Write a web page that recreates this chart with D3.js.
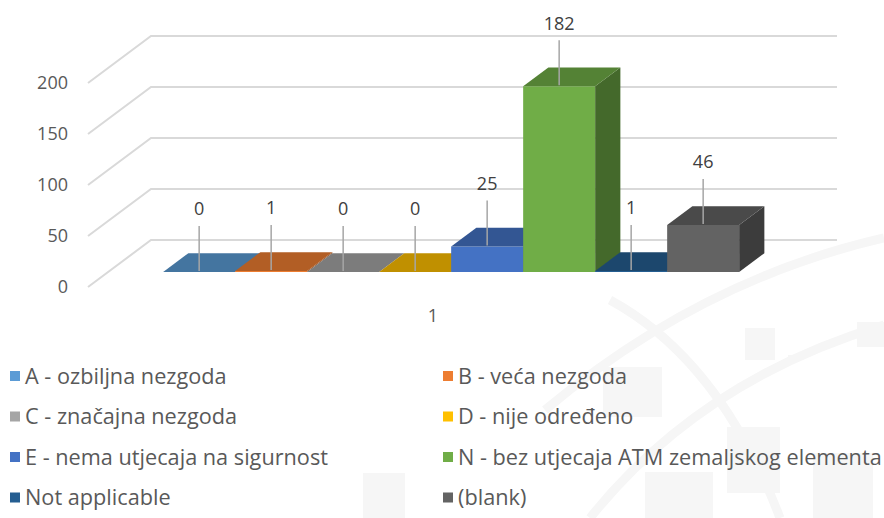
<!DOCTYPE html>
<html>
<head>
<meta charset="utf-8">
<script src="https://cdn.jsdelivr.net/npm/d3@7"></script>
<style>
  body { margin: 0; background: #fff; }
  svg { display: block; font-family: "Open Sans", sans-serif; }
</style>
</head>
<body>
<svg id="chart" width="884" height="518"></svg>
<script>
    // Data
    const categories = [
        'A - ozbiljna nezgoda',
        'B - veća nezgoda',
        'C - značajna nezgoda',
        'D - nije određeno',
        'E - nema utjecaja na sigurnost',
        'N - bez utjecaja ATM zemaljskog elementa',
        'Not applicable',
        '(blank)'
    ];
    const values = [0, 1, 0, 0, 25, 182, 1, 46];
    const colors = ['#5B9BD5', '#ED7D31', '#A5A5A5', '#FFC000', '#4472C4', '#70AD47', '#255E91', '#636363'];
    const yTicks = [0, 50, 100, 150, 200];
    const groupLabel = '1';

    const w = 884;
    const h = 518;

    // 3d projection: depth 0 = front of floor, 1 = back wall
    const depthX = 63;
    const depthY = 47;
    const barFront = 0.32;
    const barBack = 0.72;

    const project = (x, y, d) => [x + d * depthX, y - d * depthY];

    // Scales (front plane)
    const scaleX = d3.scaleBand().domain(categories).range([143, 719]);
    const scaleY = d3.scaleLinear().domain([0, 200]).range([287, 83]);

    const svg = d3.select('#chart');

    // Faint watermark in the background
    const mark = svg.append('g').attr('id', 'watermark');
    const arcs = ['M590,518 Q700,380 884,325', 'M610,300 Q720,360 780,518', 'M884,238 Q700,280 545,410'];
    mark.selectAll('path')
        .data(arcs)
        .enter()
        .append('path')
        .attr('d', d => d)
        .attr('fill', 'none')
        .attr('stroke', '#f6f6f6')
        .attr('stroke-width', 9);
    const squares = [[745, 328, 30, 32], [788, 355, 7, 5], [857, 322, 27, 25], [603, 367, 59, 50],
        [727, 427, 53, 66], [813, 453, 60, 65], [363, 473, 42, 45], [645, 472, 68, 46]];
    mark.selectAll('rect')
        .data(squares)
        .enter()
        .append('rect')
        .attr('x', d => d[0]).attr('y', d => d[1])
        .attr('width', d => d[2]).attr('height', d => d[3])
        .attr('fill', '#f6f6f6');

    // Gridlines (floor diagonal + back wall)
    const grid = svg.append('g').attr('id', 'grid');
    yTicks.forEach(t => {
        const a = project(88, scaleY(t), 0);
        const b = project(88, scaleY(t), 1);
        grid.append('polyline')
            .attr('points', [a, b, [837, b[1]]].map(p => p.join(',')).join(' '))
            .attr('fill', 'none')
            .attr('stroke', '#d9d9d9')
            .attr('stroke-width', 2);
    });

    // Y axis labels
    svg.append('g').attr('id', 'y-axis')
        .selectAll('text')
        .data(yTicks)
        .enter()
        .append('text')
        .attr('x', 68)
        .attr('y', d => scaleY(d))
        .attr('dy', '0.35em')
        .attr('text-anchor', 'end')
        .attr('font-size', 18)
        .attr('fill', '#595959')
        .text(d => d);

    // Bars
    const bars = svg.append('g').attr('id', 'bars');
    const poly = pts => pts.map(p => p.join(',')).join(' ');

    categories.forEach((c, i) => {
        const v = values[i];
        const x0 = scaleX(c);
        const x1 = x0 + scaleX.bandwidth();
        const yTop = scaleY(v);
        const yBase = scaleY(0);
        const base = d3.color(colors[i]);
        const g = bars.append('g');

        // front
        g.append('polygon')
            .attr('points', poly([project(x0, yTop, barFront), project(x1, yTop, barFront),
                project(x1, yBase, barFront), project(x0, yBase, barFront)]))
            .attr('fill', base.formatHex());
        // side
        g.append('polygon')
            .attr('points', poly([project(x1, yBase, barFront), project(x1, yTop, barFront),
                project(x1, yTop, barBack), project(x1, yBase, barBack)]))
            .attr('fill', base.darker(1.4).formatHex());
        // top
        g.append('polygon')
            .attr('points', poly([project(x0, yTop, barFront), project(x1, yTop, barFront),
                project(x1, yTop, barBack), project(x0, yTop, barBack)]))
            .attr('fill', base.darker(0.8).formatHex());
    });

    // Data labels with leader lines
    const labels = svg.append('g').attr('id', 'labels');
    categories.forEach((c, i) => {
        const p = project(scaleX(c) + scaleX.bandwidth() / 2, scaleY(values[i]), barFront);
        labels.append('line')
            .attr('x1', p[0]).attr('x2', p[0])
            .attr('y1', p[1] - 1).attr('y2', p[1] - 46)
            .attr('stroke', '#a6a6a6')
            .attr('stroke-width', 1.5);
        labels.append('text')
            .attr('x', p[0])
            .attr('y', p[1] - 63)
            .attr('dy', '0.35em')
            .attr('text-anchor', 'middle')
            .attr('font-size', 18)
            .attr('fill', '#404040')
            .text(values[i]);
    });

    // Category label
    svg.append('text')
        .attr('x', (scaleX.range()[0] + scaleX.range()[1]) / 2 + 2)
        .attr('y', scaleY(0) + 29)
        .attr('dy', '0.35em')
        .attr('text-anchor', 'middle')
        .attr('font-size', 18)
        .attr('fill', '#595959')
        .text(groupLabel);

    // Legend
    const legend = svg.append('g').attr('id', 'legend')
        .selectAll('g')
        .data(categories)
        .enter()
        .append('g')
        .attr('transform', (d, i) => `translate(${i % 2 === 0 ? 10 : 443}, ${376 + Math.floor(i / 2) * 40.5})`);

    legend.append('rect')
        .attr('x', 0).attr('y', -5)
        .attr('width', 10).attr('height', 10)
        .attr('fill', (d, i) => colors[i]);

    legend.append('text')
        .attr('x', 15)
        .attr('dy', '0.35em')
        .attr('font-size', 21.7)
        .attr('fill', '#595959')
        .text(d => d);
</script>
</body>
</html>
